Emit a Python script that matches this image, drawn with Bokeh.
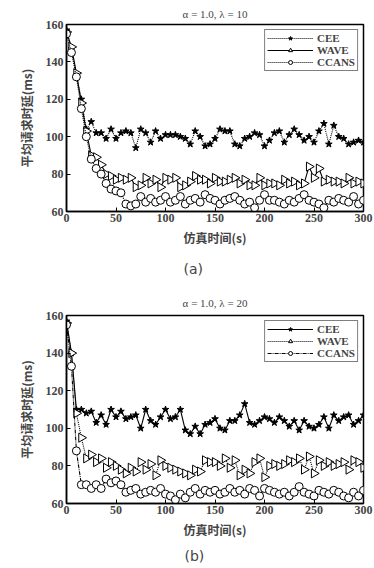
import math
from bokeh.plotting import figure
from bokeh.models import Title, Legend, Range1d, FixedTicker
from bokeh.layouts import column
from bokeh.embed import file_html
from bokeh.resources import INLINE

time_s = list(range(0, 301, 5))

a_cee = [157, 147, 133, 120, 104, 108, 102, 102, 99, 104, 99, 102, 103, 102, 94, 104, 102, 97, 103, 99,
         101, 101, 101, 100, 99, 96, 103, 100, 95, 96, 99, 104, 103, 103, 96, 95, 99, 100, 102, 101,
         95, 98, 102, 103, 97, 101, 104, 101, 98, 100, 97, 103, 107, 96, 106, 100, 99, 96, 97, 98, 97]
a_wave = [156, 148, 134, 118, 103, 90, 89, 85, 80, 79, 77, 78, 77, 78, 73, 74, 78, 75, 77, 73,
          78, 77, 78, 73, 74, 76, 79, 77, 77, 75, 78, 76, 76, 77, 78, 75, 77, 74, 74, 78,
          74, 75, 75, 74, 77, 75, 76, 74, 75, 84, 78, 83, 76, 77, 76, 76, 75, 78, 75, 76, 75]
a_ccans = [155, 145, 132, 115, 100, 88, 83, 80, 75, 72, 71, 70, 64, 63, 64, 68, 65, 67, 65, 66,
           68, 65, 66, 68, 64, 66, 67, 65, 69, 67, 66, 64, 66, 67, 68, 66, 64, 65, 62, 66,
           69, 66, 66, 65, 64, 66, 65, 67, 69, 66, 65, 64, 62, 66, 65, 67, 66, 65, 68, 64, 66]

b_cee = [157, 140, 110, 110, 108, 109, 103, 107, 102, 110, 106, 109, 105, 106, 107, 100, 110, 104, 102, 106,
         110, 105, 106, 110, 99, 97, 101, 97, 102, 103, 105, 100, 99, 104, 104, 107, 113, 103, 102, 104,
         106, 105, 103, 106, 104, 101, 104, 99, 104, 101, 100, 102, 106, 100, 107, 104, 106, 107, 102, 104, 107]
b_wave = [156, 140, 108, 95, 84, 86, 82, 84, 79, 82, 80, 78, 76, 79, 77, 82, 78, 81, 75, 83,
          80, 79, 78, 77, 76, 75, 78, 77, 83, 82, 82, 80, 84, 79, 83, 75, 78, 76, 82, 84,
          74, 80, 81, 80, 81, 83, 82, 84, 78, 85, 76, 83, 80, 82, 80, 81, 82, 78, 83, 82, 79]
b_ccans = [155, 133, 88, 70, 70, 68, 70, 68, 73, 71, 72, 70, 66, 67, 68, 65, 66, 67, 66, 68,
           65, 64, 62, 65, 63, 66, 68, 65, 67, 66, 67, 65, 66, 68, 66, 67, 65, 68, 67, 64,
           68, 67, 66, 65, 66, 64, 66, 69, 66, 65, 64, 67, 66, 65, 67, 66, 64, 63, 66, 64, 67]

series_names = ["CEE", "WAVE", "CCANS"]
x_ticks = [0, 50, 100, 150, 200, 250, 300]
y_ticks = [60, 80, 100, 120, 140, 160]

SERIF = "Liberation Serif"
CJK = "Noto Sans CJK SC"


def make_panel(title, caption, data, dashes, h, bl, br, bt, t_standoff, cap_offset, cap_standoff):
    p = figure(width=374, height=h, output_backend="svg", toolbar_location=None,
               x_range=Range1d(0, 300), y_range=Range1d(60, 160),
               min_border_left=bl, min_border_right=br, min_border_top=bt, min_border_bottom=0,
               background_fill_color="white", border_fill_color="white")
    p.title = Title(text=title, align="center", text_font=SERIF, text_font_size="11px",
                    text_font_style="normal", standoff=t_standoff)
    p.grid.visible = False
    p.outline_line_color = "black"
    p.outline_line_width = 1.5
    p.outline_line_alpha = 1
    for ax in (p.xaxis[0], p.yaxis[0]):
        ax.major_tick_in = 4
        ax.major_tick_out = 0
        ax.minor_tick_line_color = None
        ax.axis_line_width = 1.5
        ax.major_label_text_font = SERIF
        ax.major_label_text_font_size = "12px"
        ax.major_label_text_font_style = "bold"
        ax.axis_label_text_font = CJK
        ax.axis_label_text_font_size = "12px"
        ax.axis_label_text_font_style = "bold"
    p.xaxis.ticker = FixedTicker(ticks=x_ticks)
    p.yaxis.ticker = FixedTicker(ticks=y_ticks)
    p.xaxis.axis_label = "仿真时间(s)"
    p.yaxis.axis_label = "平均请求时延(ms)"
    p.xaxis.major_label_standoff = 2
    p.yaxis.major_label_standoff = 3
    p.xaxis.axis_label_standoff = 4
    p.yaxis.axis_label_standoff = 8

    cee, wave, ccans = data
    r1 = p.line(time_s, cee, line_color="black", line_width=1.1, line_dash=dashes[0])
    r1b = p.scatter(time_s, cee, marker="star", size=7, fill_color="black", line_color="black")
    r2 = p.line(time_s, wave, line_color="black", line_width=1.1, line_dash=dashes[1])
    r2b = p.scatter(time_s, wave, marker="triangle", size=9, angle=-math.pi / 2,
                    fill_color="white", line_color="black", line_width=1)
    r3 = p.line(time_s, ccans, line_color="black", line_width=1.1, line_dash=dashes[2])
    r3b = p.scatter(time_s, ccans, marker="circle", size=8, fill_color="white",
                    line_color="black", line_width=1)
    items = [(series_names[0], [r1, r1b]), (series_names[1], [r2, r2b]), (series_names[2], [r3, r3b])]
    leg = Legend(items=items, location="top_right", label_text_font=SERIF,
                 label_text_font_size="11px", label_text_font_style="bold",
                 label_height=10, glyph_height=10,
                 glyph_width=46, spacing=0, padding=2, margin=5, label_standoff=4,
                 border_line_color="black", border_line_width=1.5,
                 background_fill_alpha=1)
    p.add_layout(leg)
    cap = Title(text=caption, align="left", offset=cap_offset, text_font="DejaVu Sans",
                text_font_size="14px", text_font_style="normal", standoff=cap_standoff)
    p.add_layout(cap, "below")
    return p


p1 = make_panel("α = 1.0, λ = 10", "(a)", (a_cee, a_wave, a_ccans),
                ("1 1", "solid", "1 1"), 286, 62, 11, 0, 10, 117, 20)
p2 = make_panel("α = 1.0, λ = 20", "(b)", (b_cee, b_wave, b_ccans),
                ("solid", "1 1", "4 1 1 1"), 282, 66, 8, 29, 13, 118, 10)

layout = column(p1, p2, spacing=0)
open("out.html", "w").write(file_html(layout, INLINE))
